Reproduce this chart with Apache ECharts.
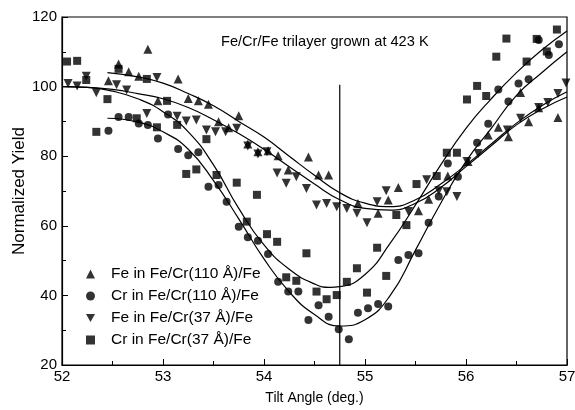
<!DOCTYPE html>
<html>
<head>
<meta charset="utf-8">
<script src="https://cdn.jsdelivr.net/npm/echarts@6/dist/echarts.min.js"></script>
<style>
html, body { margin: 0; padding: 0; background: #fff; }
#main { width: 575px; height: 410px; }
</style>
</head>
<body>
<div id="main"></div>
<script>
// measured points [tilt angle, normalized yield]
var feThick = [[52.46,101.7],[52.56,106.5],[52.66,104.3],[52.76,103.0],[52.85,110.7],[52.95,95.9],[53.15,102.2],[53.25,96.6],[53.35,95.9],[53.45,94.9],[53.55,89.9],[53.65,88.2],[53.75,91.6],[53.84,83.5],[53.94,81.3],[54.04,81.6],[54.14,80.1],[54.24,76.0],[54.44,79.8],[54.54,74.6],[54.64,74.6],[54.93,66.4],[55.13,63.6],[55.23,67.4],[55.33,71.0],[55.53,64.3],[55.63,67.6],[55.82,74.3],[56.02,78.5],[56.22,86.1],[56.32,88.3],[56.42,85.6],[56.54,98.3],[56.62,89.9],[56.72,93.9],[56.91,91.1]];
var crThick = [[52.46,87.3],[52.56,91.3],[52.66,91.3],[52.76,89.4],[52.85,89.0],[52.95,85.1],[53.05,92.0],[53.15,82.1],[53.25,80.3],[53.35,81.1],[53.45,71.2],[53.55,71.7],[53.63,66.9],[53.75,59.7],[53.84,56.7],[53.94,55.7],[54.04,51.9],[54.14,43.9],[54.24,41.1],[54.34,41.1],[54.44,32.9],[54.54,37.2],[54.64,33.9],[54.74,30.3],[54.84,27.4],[54.93,35.0],[55.03,36.3],[55.13,37.5],[55.23,36.8],[55.33,50.2],[55.43,51.6],[55.53,52.1],[55.63,60.9],[55.73,68.4],[55.82,77.9],[55.92,74.1],[56.11,83.9],[56.22,89.3],[56.32,99.2],[56.42,95.7],[56.52,100.9],[56.62,102.1],[56.72,113.4],[56.82,109.1],[56.92,112.2]];
var feThin = [[52.06,100.9],[52.15,100.2],[52.24,103.0],[52.34,98.2],[52.54,100.5],[52.64,99.0],[52.84,92.3],[52.94,102.6],[53.14,91.5],[53.23,90.1],[53.33,90.4],[53.43,87.5],[53.52,87.0],[53.62,87.0],[53.73,88.0],[53.84,82.9],[53.94,80.6],[54.03,81.3],[54.13,75.2],[54.22,72.2],[54.32,74.1],[54.42,70.7],[54.52,66.0],[54.62,66.4],[54.72,65.5],[54.82,65.0],[54.92,63.6],[55.02,60.9],[55.12,66.9],[55.21,70.1],[55.43,64.1],[55.61,73.2],[55.73,70.1],[55.81,69.8],[55.91,68.4],[56.01,78.5],[56.12,80.8],[56.41,87.5],[56.54,90.9],[56.72,94.0],[56.81,95.4],[56.91,98.0],[56.99,101.0]];
var crThin = [[52.05,107.2],[52.15,107.4],[52.24,101.9],[52.34,87.0],[52.45,96.4],[52.56,105.1],[52.74,90.9],[52.84,102.2],[52.94,88.3],[53.04,95.9],[53.14,89.0],[53.23,74.9],[53.33,76.2],[53.43,84.9],[53.53,74.6],[53.73,72.4],[53.83,61.2],[53.93,68.9],[54.03,57.6],[54.13,55.4],[54.22,45.2],[54.32,44.2],[54.42,52.1],[54.52,41.1],[54.62,38.9],[54.72,40.1],[54.82,43.9],[54.92,47.8],[55.02,40.8],[55.12,53.7],[55.21,45.6],[55.31,63.1],[55.41,60.2],[55.51,72.0],[55.71,74.3],[55.81,81.0],[55.91,81.0],[56.01,96.3],[56.11,100.2],[56.20,97.3],[56.30,108.6],[56.40,113.8],[56.60,107.2],[56.70,113.7],[56.80,110.1],[56.90,116.4]];

// fitted curves
var feThickFit = [[52.45,104],[52.75,102.8],[53.0,101],[53.25,98],[53.5,94.5],[53.75,90],[54.0,85.5],[54.25,80],[54.5,74.5],[54.75,69.5],[55.0,66.5],[55.25,65.5],[55.5,67.5],[55.75,72],[56.0,77.5],[56.25,83.5],[56.5,89.5],[56.75,94.5],[57.0,98.5]];
var crThickFit = [[52.45,90.9],[52.75,89.8],[53.0,87],[53.25,82],[53.5,73],[53.75,62],[54.0,50.5],[54.25,41],[54.5,34.5],[54.75,31.2],[55.0,33],[55.25,40],[55.5,53],[55.75,66.5],[56.0,78.5],[56.25,88],[56.5,97.5],[56.75,104],[57.0,110]];
var feThinFit = [[52.0,100],[52.25,99.8],[52.5,99.2],[52.75,98],[53.0,96.5],[53.25,94],[53.5,90.5],[53.75,86.5],[54.0,82],[54.25,77],[54.5,72],[54.75,67.5],[55.0,65],[55.25,64.5],[55.5,66.5],[55.75,71],[56.0,77],[56.25,83],[56.5,89],[56.75,93.5],[57.0,97]];
var crThinFit = [[52.0,100],[52.25,99.8],[52.5,98.7],[52.75,96.5],[53.0,92.8],[53.25,87],[53.5,77.5],[53.75,65],[54.0,54.5],[54.25,47.5],[54.5,43.3],[54.65,42.3],[54.75,42.5],[55.0,46],[55.25,55],[55.5,66],[55.75,77.5],[56.0,88],[56.25,96.5],[56.5,104],[56.75,110.5],[57.0,116]];

var refLine = [[54.75,20],[54.75,100.5]];
var seriesNames = ['Fe in Fe/Cr(110 Å)/Fe', 'Cr in Fe/Cr(110 Å)/Fe', 'Fe in Fe/Cr(37 Å)/Fe', 'Cr in Fe/Cr(37 Å)/Fe'];
var titleText = 'Fe/Cr/Fe trilayer grown at 423 K';

var font = '"Liberation Sans", Arial, sans-serif';
var downTriangle = 'path://M0,0L10,0L5,9Z';
var myChart = echarts.init(document.getElementById('main'));

function fitLine(data) {
	return {
		type: 'line',
		data: data,
		smooth: true,
		showSymbol: false,
		silent: true,
		lineStyle: { color: '#000', width: 1.2 },
		z: 1
	};
}

var option = {
	animation: false,
	textStyle: { fontFamily: font },
	grid: {
		left: 62, right: 8, top: 17, bottom: 45,
		outerBoundsMode: 'none',
		show: true, borderColor: '#000', borderWidth: 1.2
	},
	graphic: [{
		type: 'text',
		left: 221, top: 34,
		style: { text: titleText, font: '14.6px ' + font, fill: '#000' }
	}],
	legend: {
		orient: 'vertical',
		left: 81, top: 261,
		itemWidth: 9, itemHeight: 9,
		itemGap: 6,
		data: seriesNames,
		textStyle: { fontSize: 15.5, color: '#000', fontFamily: font, padding: [0, 0, 0, 11] }
	},
	xAxis: {
		type: 'value',
		min: 52, max: 57, interval: 1,
		name: 'Tilt Angle (deg.)',
		nameLocation: 'middle', nameGap: 26,
		nameTextStyle: { fontSize: 14, color: '#000' },
		axisLine: { lineStyle: { color: '#000', width: 1.2 } },
		axisTick: { inside: true, length: 6, lineStyle: { color: '#000' } },
		minorTick: { show: true, splitNumber: 2, length: 4, lineStyle: { color: '#000' } },
		axisLabel: { fontSize: 15, color: '#000', margin: 4 },
		splitLine: { show: false }
	},
	yAxis: {
		type: 'value',
		min: 20, max: 120, interval: 20,
		name: 'Normalized Yield',
		nameLocation: 'middle', nameGap: 34,
		nameMoveOverlap: false,
		nameTextStyle: { fontSize: 17, color: '#000' },
		axisLine: { lineStyle: { color: '#000', width: 1.2 } },
		axisTick: { inside: true, length: 6, lineStyle: { color: '#000' } },
		minorTick: { show: true, splitNumber: 2, length: 4, lineStyle: { color: '#000' } },
		axisLabel: { fontSize: 15, color: '#000', margin: 5 },
		splitLine: { show: false }
	},
	series: [
		fitLine(feThickFit),
		fitLine(crThickFit),
		fitLine(feThinFit),
		fitLine(crThinFit),
		{
			type: 'line', data: refLine, showSymbol: false, silent: true,
			lineStyle: { color: '#000', width: 1.2 }, z: 1
		},
		{ name: seriesNames[0], type: 'scatter', data: feThick, symbol: 'triangle', symbolSize: 9, itemStyle: { color: '#000' }, z: 3 },
		{ name: seriesNames[1], type: 'scatter', data: crThick, symbol: 'circle', symbolSize: 8, itemStyle: { color: '#000' }, z: 3 },
		{ name: seriesNames[2], type: 'scatter', data: feThin, symbol: downTriangle, symbolSize: 9, itemStyle: { color: '#000' }, z: 3 },
		{ name: seriesNames[3], type: 'scatter', data: crThin, symbol: 'rect', symbolSize: 8, itemStyle: { color: '#000' }, z: 3 }
	]
};
myChart.setOption(option);
</script>
</body>
</html>
